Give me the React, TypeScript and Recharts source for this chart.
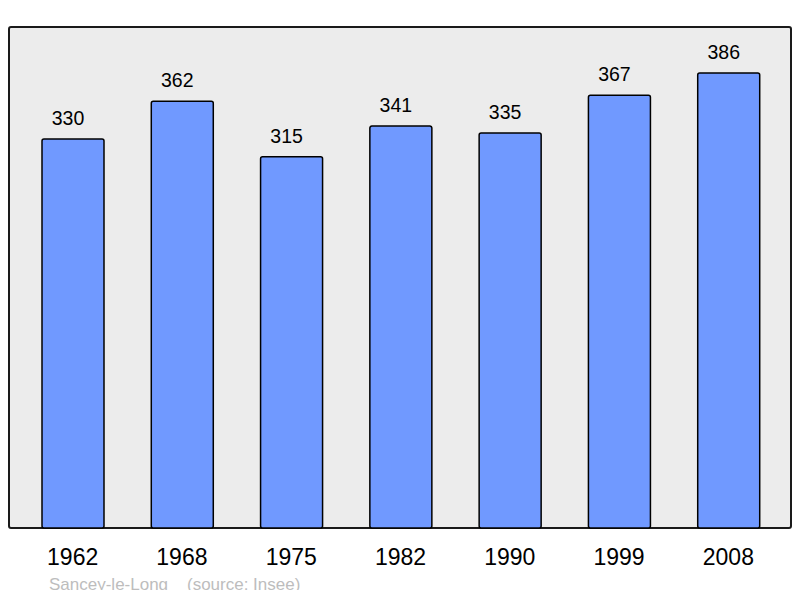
import React from 'react';
import { BarChart, Bar, XAxis, YAxis, LabelList } from 'recharts';

const years = ['1962', '1968', '1975', '1982', '1990', '1999', '2008'];
const population = [330, 362, 315, 341, 335, 367, 386];

const data = years.map((year, i) => ({ year, population: population[i] }));

const FONT = '"Liberation Sans", Arial, sans-serif';

export default function App() {
    return (
        <div style={{ position: 'relative', width: 784, height: 582, fontFamily: FONT }}>
            <div style={{ position: 'absolute', left: -8, top: -8, width: 800, height: 598 }}>
                {/* plot frame */}
                <div
                    style={{
                        position: 'absolute',
                        left: 8,
                        top: 26,
                        width: 784,
                        height: 503,
                        boxSizing: 'border-box',
                        background: '#ececec',
                        border: '2px solid #1a1a1a',
                        borderRadius: 3,
                    }}
                />
                <div style={{ position: 'absolute', left: 0, top: 0 }}>
                    <BarChart
                        width={800}
                        height={598}
                        data={data}
                        margin={{ top: 27, right: 9, left: 9, bottom: 0 }}
                    >
                        <XAxis
                            dataKey="year"
                            height={70}
                            axisLine={false}
                            tickLine={false}
                            tickSize={0}
                            tickMargin={21}
                            padding={{ left: 9, right: 8 }}
                            tick={{ fill: '#000', fontSize: 23, fontFamily: FONT }}
                            interval={0}
                        />
                        <YAxis hide domain={[0, 425]} />
                        <Bar
                            dataKey="population"
                            barSize={62}
                            fill="#7099ff"
                            stroke="#000"
                            strokeWidth={1.5}
                            radius={2}
                            isAnimationActive={false}
                        >
                            <LabelList
                                dataKey="population"
                                position="top"
                                offset={14}
                                dx={-5}
                                fill="#000"
                                fontSize={19.5}
                                fontFamily={FONT}
                            />
                        </Bar>
                    </BarChart>
                </div>
                <div
                    style={{
                        position: 'absolute',
                        left: 49,
                        top: 575,
                        fontSize: 17,
                        color: '#bdbdbd',
                        whiteSpace: 'pre',
                        lineHeight: '20px',
                    }}
                >
                    {'Sancey-le-Long    (source: Insee)'}
                </div>
            </div>
        </div>
    );
}
